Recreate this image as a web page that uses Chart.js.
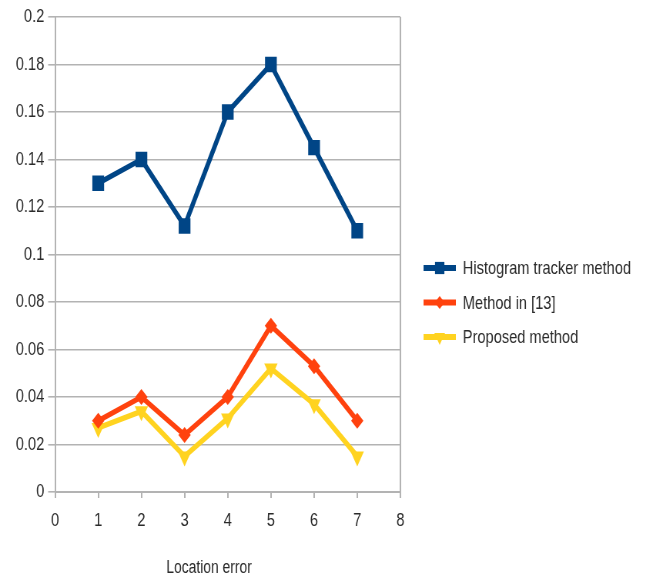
<!DOCTYPE html>
<html>
<head>
<meta charset="utf-8">
<script src="https://cdn.jsdelivr.net/npm/chart.js@4/dist/chart.umd.min.js"></script>
<style>
  html, body { margin: 0; padding: 0; background: #ffffff; overflow: hidden; }
  #frame { width: 645px; height: 578px; overflow: hidden; position: relative; }
  /* The chart is laid out on a wider canvas and squeezed horizontally,
     which gives the tall, narrow lettering and markers of the figure. */
  #wrap { width: 838px; height: 578px; transform: scaleX(0.77); transform-origin: 0 0; }
</style>
</head>
<body>
<div id="frame"><div id="wrap"><canvas id="chart" width="838" height="578"></canvas></div></div>
<script>
// Location error (x) and error rate per method
const locationError = [1, 2, 3, 4, 5, 6, 7];
const histogramTracker = [0.130, 0.140, 0.112, 0.160, 0.180, 0.145, 0.110];
const methodIn13 = [0.030, 0.040, 0.024, 0.040, 0.070, 0.053, 0.030];
const proposedMethod = [0.027, 0.034, 0.015, 0.031, 0.052, 0.037, 0.015];
const seriesNames = ['Histogram tracker method', 'Method in [13]', 'Proposed method'];
const xTitle = 'Location error';

const FONT = '"Liberation Sans", Arial, sans-serif';
const GRID = '#b3b3b3';
const TEXT = '#2a2a2a';

function points(values) {
  return locationError.map((x, i) => ({ x: x, y: values[i] }));
}

function series(label, values, color, style, radius, rotation) {
  return {
    label: label,
    data: points(values),
    borderColor: color,
    backgroundColor: color,
    borderWidth: 5.5,
    pointStyle: style,
    pointRadius: radius,
    pointHoverRadius: radius,
    pointRotation: rotation,
    pointBorderWidth: 0,
    pointBackgroundColor: color,
    tension: 0,
    fill: false
  };
}

// Legend on the right: a thick line segment with the series marker, then the name.
// Also places the x axis title under the plot.
const sideLegend = {
  id: 'sideLegend',
  afterDraw(chart) {
    const ctx = chart.ctx;
    const area = chart.chartArea;
    const x0 = area.right + 30;
    const lineW = 42;
    const y0 = 268;
    const step = 34.5;
    ctx.save();
    ctx.font = '19px ' + FONT;
    ctx.textBaseline = 'middle';
    ctx.textAlign = 'left';
    chart.data.datasets.forEach((ds, i) => {
      const y = y0 + i * step;
      ctx.strokeStyle = ds.borderColor;
      ctx.lineWidth = 6;
      ctx.beginPath();
      ctx.moveTo(x0, y);
      ctx.lineTo(x0 + lineW, y);
      ctx.stroke();
      ctx.fillStyle = ds.backgroundColor;
      ctx.strokeStyle = ds.backgroundColor;
      ctx.lineWidth = 0.01;
      Chart.helpers.drawPoint(ctx, {
        pointStyle: ds.pointStyle,
        rotation: ds.pointRotation,
        radius: ds.pointRadius * 0.8,
        borderWidth: 0
      }, x0 + lineW / 2, y);
      ctx.fillStyle = TEXT;
      ctx.fillText(ds.label, x0 + lineW + 9, y + 1);
    });

    ctx.font = '18px ' + FONT;
    ctx.textAlign = 'center';
    ctx.fillText(xTitle, area.left + (area.right - area.left) * 0.446, 568);
    ctx.restore();
  }
};

new Chart(document.getElementById('chart'), {
  type: 'line',
  data: {
    datasets: [
      series(seriesNames[0], histogramTracker, '#004586', 'rect', 10.8, 0),
      series(seriesNames[1], methodIn13, '#ff420e', 'rectRot', 8, 0),
      series(seriesNames[2], proposedMethod, '#ffd320', 'triangle', 10, 180)
    ]
  },
  options: {
    responsive: false,
    animation: false,
    layout: { padding: { top: 17, right: 318, left: 0, bottom: 0 } },
    plugins: {
      legend: { display: false },
      tooltip: { enabled: false }
    },
    scales: {
      x: {
        type: 'linear',
        min: 0,
        max: 8,
        ticks: { stepSize: 1, color: TEXT, font: { family: FONT, size: 19 }, padding: 11 },
        grid: {
          color: (c) => (c.tick && c.tick.value === 8 ? GRID : 'rgba(0,0,0,0)'),
          tickColor: GRID,
          tickLength: 6,
          lineWidth: 2,
          drawOnChartArea: true
        },
        border: { color: GRID, width: 2 },
        afterFit(scale) { scale.height = 578 - 492; }
      },
      y: {
        min: 0,
        max: 0.2,
        ticks: {
          stepSize: 0.02,
          color: TEXT,
          font: { family: FONT, size: 19 },
          padding: 5,
          callback: (v) => String(+v.toFixed(2))
        },
        grid: { color: GRID, tickColor: GRID, tickLength: 9, lineWidth: 1.6 },
        border: { color: GRID, width: 2 },
        afterFit(scale) { scale.width = 71.5; }
      }
    }
  },
  plugins: [sideLegend]
});
</script>
</body>
</html>
